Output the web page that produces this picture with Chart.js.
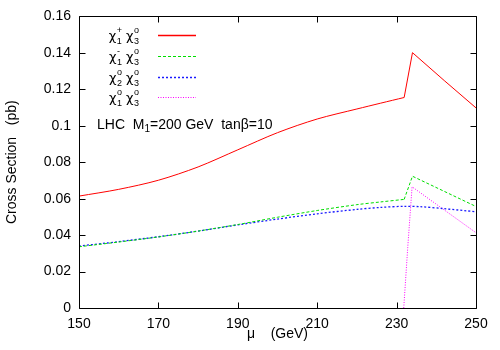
<!DOCTYPE html>
<html>
<head>
<meta charset="utf-8">
<script src="https://cdn.jsdelivr.net/npm/chart.js@4/dist/chart.umd.min.js"></script>
<style>
  html, body { margin: 0; padding: 0; background: #fff; }
  #wrap { width: 500px; height: 350px; }
</style>
</head>
<body>
<div id="wrap"><canvas id="c" width="500" height="350"></canvas></div>
<script>
// ---- data ----
const muRed   = [150, 160, 170, 180, 190, 200, 210, 220, 226, 231.9, 234.0, 242, 250];
const xsRed   = [0.0614, 0.0651, 0.0701, 0.0774, 0.0868, 0.0962, 0.1037, 0.1092, 0.1124, 0.1155, 0.1401, 0.1248, 0.1098];

const muGreen = [150, 160, 170, 180, 190, 200, 210, 220, 226, 231.9, 234.0, 242, 250];
const xsGreen = [0.0336, 0.0362, 0.0390, 0.0422, 0.0458, 0.0498, 0.0535, 0.0567, 0.0582, 0.0596, 0.0723, 0.0640, 0.0557];

const muBlue  = [150, 160, 170, 180, 190, 200, 210, 220, 226, 232, 236, 242, 250];
const xsBlue  = [0.0340, 0.0364, 0.0391, 0.0422, 0.0456, 0.0488, 0.0517, 0.0541, 0.0552, 0.0558, 0.0556, 0.0545, 0.0528];

const muMag   = [231.8, 232.8, 233.9, 242, 250];
const xsMag   = [0.0, 0.033, 0.0665, 0.0538, 0.0413];

const kinkRed = 231.9, kinkGreen = 231.9;   // where the smooth part ends

const xTicks = [150, 170, 190, 210, 230, 250];
const yTicks = [0, 0.02, 0.04, 0.06, 0.08, 0.1, 0.12, 0.14, 0.16];

// legend labels: pairs of [symbol, subscript, superscript]
const legendLabels = [
  [["χ", "1", "+"], ["χ", "3", "o"]],
  [["χ", "1", "-"], ["χ", "3", "o"]],
  [["χ", "2", "o"], ["χ", "3", "o"]],
  [["χ", "1", "o"], ["χ", "3", "o"]]
];
const annotation = ["LHC  M", "1", "=200 GeV  tanβ=10"];

const FONT = "'Liberation Sans', Arial, Helvetica, sans-serif";
const SYMFONT = "'DejaVu Sans', 'Liberation Sans', sans-serif";

function pts(xs, ys) { return xs.map((x, i) => ({ x: x, y: ys[i] })); }

const styles = [
  { color: "#ff0000", dash: [], width: 1 },
  { color: "#00dd00", dash: [3, 2], width: 1 },
  { color: "#1a1aff", dash: [2, 2], width: 1.3 },
  { color: "#ff00ff", dash: [1, 1.5], width: 1 }
];

function mk(data, st, tension) {
  return { data: data, borderColor: st.color, borderDash: st.dash, borderWidth: st.width,
           pointRadius: 0, fill: false, tension: tension };
}
// smooth part (with slight tension) and the straight part after the threshold kink
const redAll = pts(muRed, xsRed), greenAll = pts(muGreen, xsGreen);
const datasets = [
  mk(redAll.filter(p => p.x <= kinkRed), styles[0], 0.3),
  mk(redAll.filter(p => p.x >= kinkRed), styles[0], 0),
  mk(greenAll.filter(p => p.x <= kinkGreen), styles[1], 0.3),
  mk(greenAll.filter(p => p.x >= kinkGreen), styles[1], 0),
  mk(pts(muBlue, xsBlue), styles[2], 0.3),
  mk(pts(muMag, xsMag), styles[3], 0)
];

function drawComposite(ctx, parts, xRight, yBase) {
  const big = "13px " + SYMFONT, small = "9px " + FONT;
  const gap = 4;
  const widths = parts.map(p => {
    ctx.font = big; const w1 = ctx.measureText(p[0]).width;
    ctx.font = small; const w2 = Math.max(ctx.measureText(p[1]).width, ctx.measureText(p[2]).width);
    return w1 + w2 + 0.5;
  });
  const total = widths.reduce((a, b) => a + b, 0) + gap * (parts.length - 1);
  let x = xRight - total;
  ctx.textAlign = "left";
  ctx.textBaseline = "alphabetic";
  parts.forEach((p, i) => {
    ctx.font = big; ctx.fillText(p[0], x, yBase);
    const w1 = ctx.measureText(p[0]).width;
    ctx.font = small;
    ctx.fillText(p[1], x + w1 + 0.5, yBase + 4);
    ctx.fillText(p[2], x + w1 + 0.5, yBase - 7);
    x += widths[i] + gap;
  });
}

const framePlugin = {
  id: "frame",
  afterDatasetsDraw(chart) {
    const ctx = chart.ctx, a = chart.chartArea;
    const xs = chart.scales.x, ys = chart.scales.y;
    ctx.save();
    ctx.strokeStyle = "#000";
    ctx.lineWidth = 1;
    ctx.setLineDash([]);
    const L = Math.round(a.left) + 0.5, R = Math.round(a.right) + 0.5;
    const T = Math.round(a.top) + 0.5, B = Math.round(a.bottom) + 0.5;
    ctx.beginPath();
    ctx.rect(L, T, R - L, B - T);
    const tl = 6;
    yTicks.forEach(v => {
      const py = Math.round(ys.getPixelForValue(v)) + 0.5;
      ctx.moveTo(L, py); ctx.lineTo(L + tl, py);
      ctx.moveTo(R, py); ctx.lineTo(R - tl, py);
    });
    xTicks.forEach(v => {
      const px = Math.round(xs.getPixelForValue(v)) + 0.5;
      ctx.moveTo(px, B); ctx.lineTo(px, B - tl);
      ctx.moveTo(px, T); ctx.lineTo(px, T + tl);
    });
    ctx.stroke();

    // legend
    ctx.fillStyle = "#000";
    const rowY0 = a.top + 18.7;
    const rowDy = 20.7;
    legendLabels.forEach((parts, i) => {
      const y = rowY0 + i * rowDy;
      drawComposite(ctx, parts, 139, y + 5);
      const st = styles[i];
      ctx.strokeStyle = st.color;
      ctx.setLineDash(st.dash);
      ctx.lineWidth = i === 0 ? 1.6 : st.width;
      ctx.beginPath();
      ctx.moveTo(158, Math.round(y) + 0.5);
      ctx.lineTo(196, Math.round(y) + 0.5);
      ctx.stroke();
    });
    ctx.setLineDash([]);

    // annotation
    ctx.fillStyle = "#000";
    ctx.textAlign = "left";
    ctx.textBaseline = "alphabetic";
    let x = 97, yb = 129;
    ctx.font = "14px " + FONT;
    ctx.fillText(annotation[0], x, yb);
    x += ctx.measureText(annotation[0]).width;
    ctx.font = "10px " + FONT;
    ctx.fillText(annotation[1], x, yb + 3);
    x += ctx.measureText(annotation[1]).width;
    ctx.font = "14px " + FONT;
    ctx.fillText(annotation[2], x, yb);
    ctx.restore();
  }
};

new Chart(document.getElementById("c"), {
  type: "line",
  data: { datasets: datasets },
  options: {
    responsive: false,
    animation: false,
    layout: { padding: { left: 0, right: 24, top: 16, bottom: 0 } },
    plugins: { legend: { display: false }, tooltip: { enabled: false } },
    scales: {
      x: {
        type: "linear", min: 150, max: 250,
        afterBuildTicks: s => { s.ticks = xTicks.map(v => ({ value: v })); },
        ticks: { color: "#000", font: { family: FONT, size: 14 }, padding: 8, maxRotation: 0,
                 callback: v => String(v) },
        grid: { display: false, drawTicks: false },
        border: { display: false },
        title: { display: true, text: "μ    (GeV)", color: "#000", font: { family: FONT, size: 14 }, padding: { top: 2, bottom: 7 } },
        afterFit: s => { s.height = 42; }
      },
      y: {
        type: "linear", min: 0, max: 0.16,
        afterBuildTicks: s => { s.ticks = yTicks.map(v => ({ value: v })); },
        ticks: { color: "#000", font: { family: FONT, size: 14 }, padding: 8,
                 callback: v => String(Number(v.toFixed(2))) },
        grid: { display: false, drawTicks: false },
        border: { display: false },
        title: { display: true, text: "Cross Section   (pb)", color: "#000", font: { family: FONT, size: 14 }, padding: { top: 4, bottom: 0 } },
        afterFit: s => { s.width = 79; }
      }
    }
  },
  plugins: [framePlugin]
});
</script>
</body>
</html>
